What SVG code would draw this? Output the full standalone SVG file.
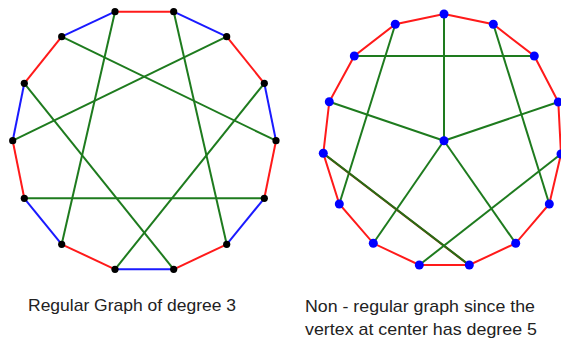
<svg xmlns="http://www.w3.org/2000/svg" width="561" height="341" viewBox="0 0 561 341">
<style>
.r{stroke:#ff1a1a;stroke-width:2;fill:none}
.b{stroke:#1a1aff;stroke-width:2;fill:none}
.g{stroke:#1e7b1e;stroke-width:2;fill:none}
.kv{fill:#000}
.bv{fill:#0000ff}
text{font-family:"Liberation Sans",Arial,sans-serif;font-size:17px;fill:#222}
</style>
<rect width="561" height="341" fill="#fff"/>
<g id="connectors">
<!-- left outer cycle -->
<line class="r" x1="115" y1="11.7" x2="173.7" y2="11.7"/>
<line class="b" x1="173.7" y1="11.7" x2="226.7" y2="36.7"/>
<line class="r" x1="226.7" y1="36.7" x2="264.3" y2="83.3"/>
<line class="b" x1="264.3" y1="83.3" x2="276" y2="140.7"/>
<line class="r" x1="276" y1="140.7" x2="264.3" y2="198.3"/>
<line class="b" x1="264.3" y1="198.3" x2="226.7" y2="244.3"/>
<line class="r" x1="226.7" y1="244.3" x2="173.7" y2="269.3"/>
<line class="b" x1="173.7" y1="269.3" x2="115" y2="269.3"/>
<line class="r" x1="115" y1="269.3" x2="61.7" y2="244.3"/>
<line class="b" x1="61.7" y1="244.3" x2="24.3" y2="198.3"/>
<line class="r" x1="24.3" y1="198.3" x2="12.7" y2="140.7"/>
<line class="b" x1="12.7" y1="140.7" x2="24.3" y2="83.3"/>
<line class="r" x1="24.3" y1="83.3" x2="61.7" y2="36.7"/>
<line class="b" x1="61.7" y1="36.7" x2="115" y2="11.7"/>
<!-- left chords -->
<line class="g" x1="115" y1="11.7" x2="61.7" y2="244.3"/>
<line class="g" x1="173.7" y1="11.7" x2="226.7" y2="244.3"/>
<line class="g" x1="61.7" y1="36.7" x2="276" y2="140.7"/>
<line class="g" x1="226.7" y1="36.7" x2="12.7" y2="140.7"/>
<line class="g" x1="24.3" y1="83.3" x2="173.7" y2="269.3"/>
<line class="g" x1="264.3" y1="83.3" x2="115" y2="269.3"/>
<line class="g" x1="24.3" y1="198.3" x2="264.3" y2="198.3"/>
<!-- right outer cycle -->
<polygon class="r" points="444,14 493.3,24.3 534.3,56 558.3,102 561,154 549.3,204 515.7,243.3 469.3,265 419.3,265 373.3,243.3 339.3,204 323.3,153.3 329.3,101.7 354.3,56 395.3,24.3"/>
<!-- right chords -->
<line class="g" x1="444" y1="14" x2="444" y2="140.7"/>
<line class="g" x1="354.3" y1="56" x2="534.3" y2="56"/>
<line class="g" x1="395.3" y1="24.3" x2="339.3" y2="204"/>
<line class="g" x1="493.3" y1="24.3" x2="549.3" y2="204"/>
<line class="g" x1="329.3" y1="101.7" x2="444" y2="140.7"/>
<line class="g" x1="444" y1="140.7" x2="558.3" y2="102"/>
<line class="g" x1="444" y1="140.7" x2="373.3" y2="243.3"/>
<line class="g" x1="444" y1="140.7" x2="515.7" y2="243.3"/>
<line class="r" x1="323.8" y1="154" x2="469.8" y2="265.7" style="stroke:#8a3a10"/>
<line class="g" x1="323.3" y1="153.3" x2="469.3" y2="265" style="stroke:#2a6a14"/>
<line class="g" x1="561" y1="154" x2="419.3" y2="265"/>
</g>
<g id="left-nodes">
<circle class="kv" cx="115" cy="11.7" r="3.6"/>
<circle class="kv" cx="173.7" cy="11.7" r="3.6"/>
<circle class="kv" cx="226.7" cy="36.7" r="3.6"/>
<circle class="kv" cx="264.3" cy="83.3" r="3.6"/>
<circle class="kv" cx="276" cy="140.7" r="3.6"/>
<circle class="kv" cx="264.3" cy="198.3" r="3.6"/>
<circle class="kv" cx="226.7" cy="244.3" r="3.6"/>
<circle class="kv" cx="173.7" cy="269.3" r="3.6"/>
<circle class="kv" cx="115" cy="269.3" r="3.6"/>
<circle class="kv" cx="61.7" cy="244.3" r="3.6"/>
<circle class="kv" cx="24.3" cy="198.3" r="3.6"/>
<circle class="kv" cx="12.7" cy="140.7" r="3.6"/>
<circle class="kv" cx="24.3" cy="83.3" r="3.6"/>
<circle class="kv" cx="61.7" cy="36.7" r="3.6"/>
</g>
<g id="right-nodes">
<circle class="bv" cx="444" cy="14" r="4.5"/>
<circle class="bv" cx="493.3" cy="24.3" r="4.5"/>
<circle class="bv" cx="534.3" cy="56" r="4.5"/>
<circle class="bv" cx="558.3" cy="102" r="4.5"/>
<circle class="bv" cx="561" cy="154" r="4.5"/>
<circle class="bv" cx="549.3" cy="204" r="4.5"/>
<circle class="bv" cx="515.7" cy="243.3" r="4.5"/>
<circle class="bv" cx="469.3" cy="265" r="4.5"/>
<circle class="bv" cx="419.3" cy="265" r="4.5"/>
<circle class="bv" cx="373.3" cy="243.3" r="4.5"/>
<circle class="bv" cx="339.3" cy="204" r="4.5"/>
<circle class="bv" cx="323.3" cy="153.3" r="4.5"/>
<circle class="bv" cx="329.3" cy="101.7" r="4.5"/>
<circle class="bv" cx="354.3" cy="56" r="4.5"/>
<circle class="bv" cx="395.3" cy="24.3" r="4.5"/>
<circle class="bv" cx="444" cy="140.7" r="4.5"/>
</g>
<g id="labels">
<text x="28" y="311" textLength="208" lengthAdjust="spacingAndGlyphs">Regular Graph of degree 3</text>
<text x="305" y="311.5" textLength="230" lengthAdjust="spacingAndGlyphs">Non - regular graph since the</text>
<text x="305" y="335" textLength="232" lengthAdjust="spacingAndGlyphs">vertex at center has degree 5</text>
</g>
</svg>
